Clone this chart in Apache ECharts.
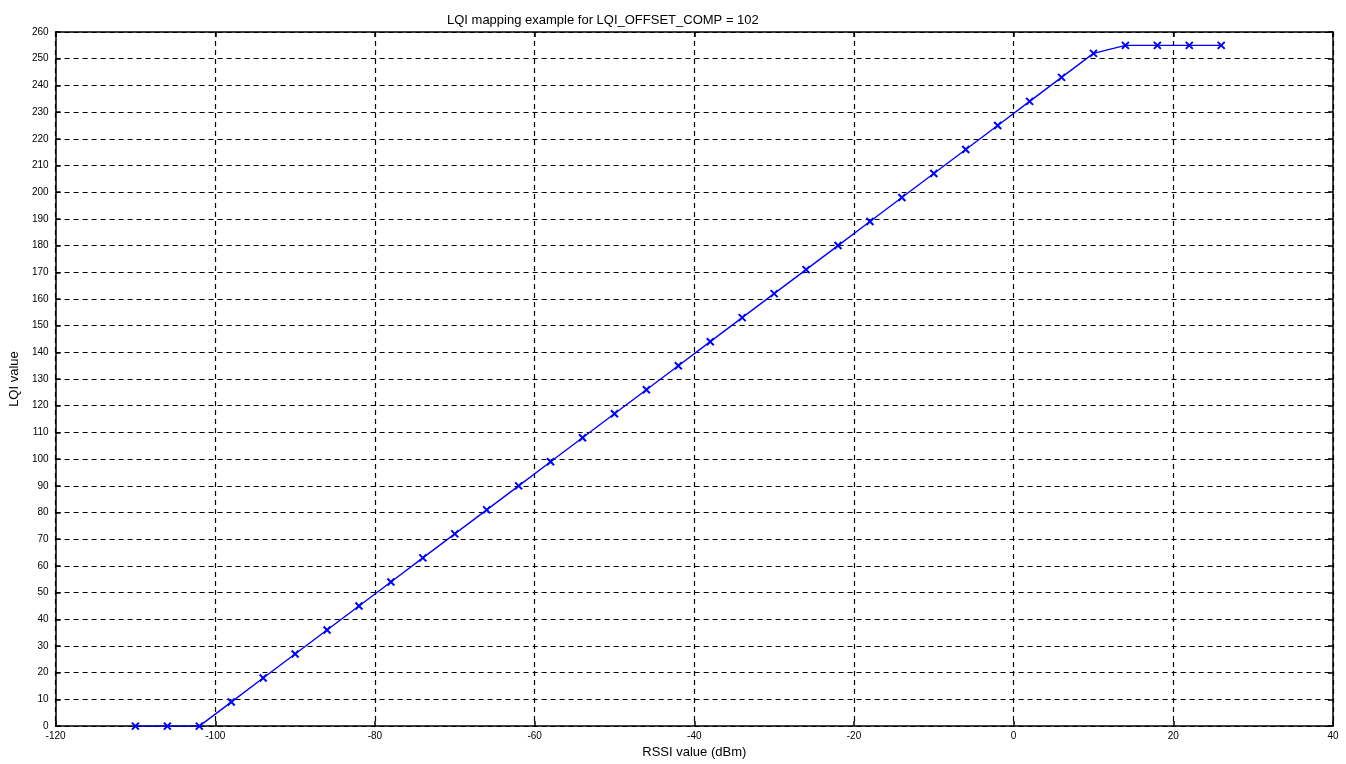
<!DOCTYPE html>
<html><head><meta charset="utf-8">
<script src="https://cdn.jsdelivr.net/npm/echarts@6/dist/echarts.min.js"></script>
<style>html,body{margin:0;padding:0;background:#fff}#c{width:1346px;height:764px}</style>
</head><body><div id="c"></div>
<script>
const rssi = [-110,-106,-102,-98,-94,-90,-86,-82,-78,-74,-70,-66,-62,-58,-54,-50,-46,-42,-38,-34,-30,-26,-22,-18,-14,-10,-6,-2,2,6,10,14,18,22,26];
const lqi  = [0,0,0,9,18,27,36,45,54,63,72,81,90,99,108,117,126,135,144,153,162,171,180,189,198,207,216,225,234,243,252,255,255,255,255];
const titleText = 'LQI mapping example for LQI_OFFSET_COMP = 102';
const xLabel = 'RSSI value (dBm)';
const yLabel = 'LQI value';

const chart = echarts.init(document.getElementById('c'));
const font = 'Liberation Sans Narrow, Arial Narrow, Liberation Sans, sans-serif';
const axisCommon = {
  axisLine: {show: true, onZero: false, lineStyle: {color: '#000', width: 1.5}},
  axisTick: {show: true, inside: true, length: 5, lineStyle: {color: '#000', width: 1.5}},
};
chart.setOption({
  animation: false,
  title: {text: titleText, left: 442, top: 9,
    textStyle: {fontSize: 13, fontWeight: 'normal', color: '#000', fontFamily: font}},
  grid: {left: 55, right: 13, top: 32, bottom: 35, containLabel: false},
  xAxis: [
    Object.assign({type: 'value', min: -120, max: 40, interval: 20, position: 'bottom',
      name: xLabel, nameLocation: 'middle', nameGap: 17,
      nameTextStyle: {fontSize: 13, color: '#000', fontFamily: font},
      axisLabel: {fontSize: 10, color: '#000', margin: 5, fontFamily: font},
      splitLine: {show: true, lineStyle: {color: '#000', type: [5, 4], width: 1.2}}}, axisCommon),
    Object.assign({type: 'value', min: -120, max: 40, interval: 20, position: 'top',
      axisLabel: {show: false}, splitLine: {show: false}}, axisCommon)
  ],
  yAxis: [
    Object.assign({type: 'value', min: 0, max: 260, interval: 10, position: 'left',
      name: yLabel, nameLocation: 'middle', nameGap: 34,
      nameTextStyle: {fontSize: 13, color: '#000', fontFamily: font},
      axisLabel: {fontSize: 10, color: '#000', margin: 7, fontFamily: font},
      splitLine: {show: true, lineStyle: {color: '#000', type: [5, 4], width: 1.2}}}, axisCommon),
    Object.assign({type: 'value', min: 0, max: 260, interval: 10, position: 'right',
      axisLabel: {show: false}, splitLine: {show: false}}, axisCommon)
  ],
  series: [{
    type: 'line',
    data: rssi.map((x, i) => [x, lqi[i]]),
    lineStyle: {color: '#0000ff', width: 1.4},
    itemStyle: {color: '#0000ff', borderColor: '#0000ff', borderWidth: 2},
    symbol: 'path://M0,0 L10,10 M10,0 L0,10 M0,0 L10,10',
    symbolSize: 7,
    showAllSymbol: true
  }]
});
</script></body></html>
